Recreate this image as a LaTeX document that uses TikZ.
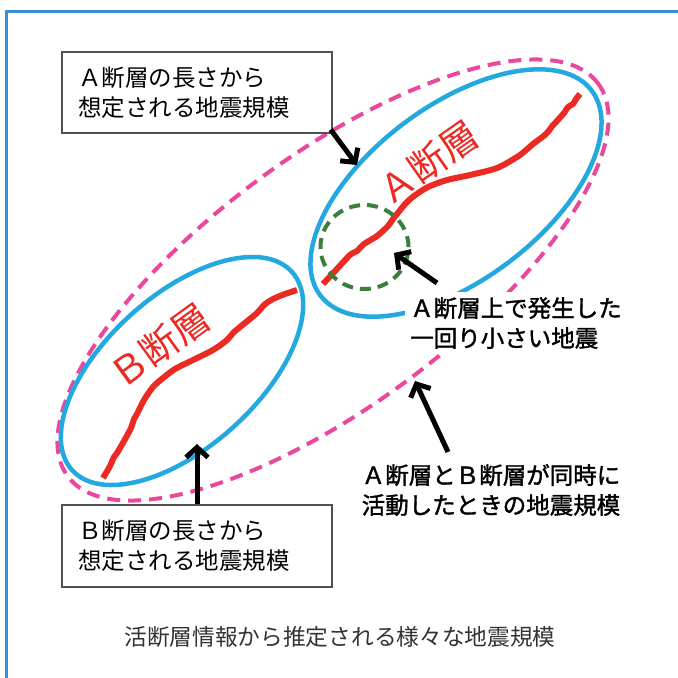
\documentclass[tikz,border=0pt]{standalone}
\usepackage{fontspec}
\setmainfont{Noto Sans CJK JP}
\newfontfamily\jpb[FakeBold=1.5]{Noto Sans CJK JP}
\usetikzlibrary{arrows.meta,shapes.geometric}
\definecolor{framecol}{RGB}{58,143,210}
\definecolor{ellblue}{RGB}{36,168,224}
\definecolor{faultred}{RGB}{236,42,36}
\definecolor{pinkc}{RGB}{234,72,156}
\definecolor{greenc}{RGB}{58,128,58}
\definecolor{boxgray}{RGB}{80,80,80}
\tikzset{
  frameline/.style={draw=framecol, line width=3pt},
  bigell/.style={ellipse, draw=pinkc, line width=4pt, dash pattern=on 13pt off 8pt, inner sep=0pt, outer sep=0pt},
  blueell/.style={ellipse, draw=ellblue, line width=4.5pt, inner sep=0pt, outer sep=0pt},
  smallell/.style={ellipse, draw=greenc, line width=4pt, dash pattern=on 11pt off 7pt, inner sep=0pt, outer sep=0pt},
  faultline/.style={draw=faultred, line width=6pt, line join=round, line cap=butt},
  faultlabel/.style={text=faultred, font=\fontsize{38}{38}\selectfont, inner sep=0pt},
  infobox/.style={draw=boxgray, line width=1.3pt, fill=white, align=left, text width=238pt,
    inner xsep=16pt, inner ysep=0pt, minimum height=81pt, font=\fontsize{23.5}{30}\selectfont},
  note/.style={fill=white, align=left, inner sep=5pt, font=\jpb\fontsize{23.5}{30}\selectfont},
  captionnode/.style={text=black!80, font=\fontsize{22.7}{26}\selectfont, inner sep=0pt},
  arrowline/.style={draw=black, line width=5pt, -{Straight Barb[length=10pt,width=22pt]}}
}
\begin{document}
\begin{tikzpicture}[x=1pt,y=-1pt]
\useasboundingbox (0,0) rectangle (678,678);
% large dashed ellipse (A and B together)
\node[bigell, minimum width=660pt, minimum height=250pt, rotate=36.5] (ellAB) at (333,280) {};
% fault ellipses
\node[blueell, minimum width=340pt, minimum height=174pt, rotate=37] (ellA) at (456,193) {};
\node[blueell, minimum width=296pt, minimum height=152pt, rotate=42] (ellB) at (182,371) {};
% faults
\draw[faultline] plot[smooth, tension=0.5] coordinates {(323,284) (336,270) (350,255) (357,251) (364,244) (377,236) (388,226) (393,219) (397,214) (406,203) (414,196) (428,187) (447,180) (470,175) (497,168) (517,157) (525,151) (533,144) (546,134) (553,125) (556,122) (564,113) (568,107) (573,104) (576,99) (580,94)};
\draw[faultline] plot[smooth, tension=0.5] coordinates {(103,478) (110,466) (114,457) (117,453) (124,441) (131,428) (134,419) (137,414) (144,400) (153,387) (163,378) (175,369) (193,360) (213,350) (227,340) (233,333) (240,327) (257,313) (264,305) (273,299) (285,294) (297,290)};
% small event circle
\node[smallell, minimum width=88pt, minimum height=84pt] (ellS) at (364.5,247) {};
% fault labels
\node[faultlabel, rotate=35] (labA) at (428,163) {Ａ断層};
\node[faultlabel, rotate=36] (labB) at (160,346) {Ｂ断層};
% boxes
\node[infobox] (boxA) at (197,92.5) {Ａ断層の長さから\\想定される地震規模};
\node[infobox, minimum height=82pt] (boxB) at (197,546) {Ｂ断層の長さから\\想定される地震規模};
% notes
\node[note] (noteS) at (516,323) {Ａ断層上で発生した\\一回り小さい地震};
\node[note] (noteAB) at (491,490) {Ａ断層とＢ断層が同時に\\活動したときの地震規模};
% arrow ends
\coordinate (tipA) at (357,165);
\coordinate (tailS) at (437,283);
\coordinate (tipS) at (394,253);
\coordinate (tailAB) at (448,452);
\coordinate (tipAB) at (415,381);
\coordinate (tipB) at (197,444);
\draw[arrowline] ([shift={(-2,-4)}]boxA.south east) -- (tipA);
\draw[arrowline] (tailS) -- (tipS);
\draw[arrowline] (tailAB) -- (tipAB);
\draw[arrowline] (boxB.north) -- (tipB);
% caption
\node[captionnode] (cap) at (340,637) {活断層情報から推定される様々な地震規模};
% frame
\draw[frameline] (6,678) -- (6,11) -- (678,11);
\end{tikzpicture}
\end{document}
